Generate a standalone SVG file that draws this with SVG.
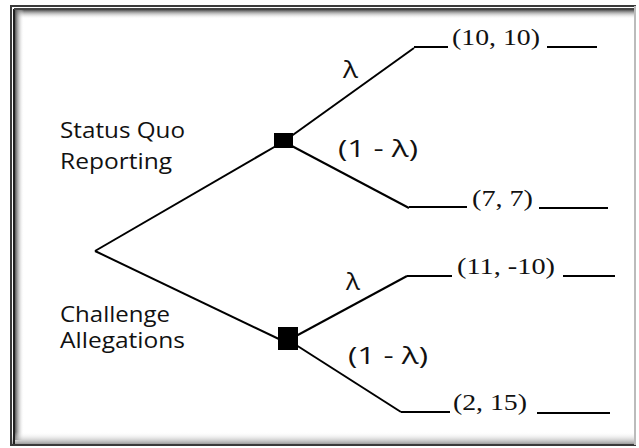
<svg xmlns="http://www.w3.org/2000/svg" width="639" height="448" viewBox="0 0 639 448">
<style>
.edge{stroke:#000;stroke-width:2;fill:none}
.lbl{font-family:"Open Sans",sans-serif;font-size:21px;fill:#111}
.prob{font-family:"Open Sans",sans-serif;font-size:24px;fill:#111}
.pay{font-family:"Liberation Serif",serif;font-size:23px;fill:#111}
.sq{fill:#000}
</style>
<defs>
<linearGradient id="gt" x1="0" y1="0" x2="0" y2="1"><stop offset="0" stop-color="#555"/><stop offset="1" stop-color="#fff" stop-opacity="0"/></linearGradient>
<linearGradient id="gl" x1="0" y1="0" x2="1" y2="0"><stop offset="0" stop-color="#555"/><stop offset="1" stop-color="#fff" stop-opacity="0"/></linearGradient>
<linearGradient id="gb" x1="0" y1="0" x2="0" y2="1"><stop offset="0" stop-color="#fff" stop-opacity="0"/><stop offset="1" stop-color="#777"/></linearGradient>
</defs>
<rect width="639" height="448" fill="#fff"/>
<g id="frame">
<rect x="15" y="10" width="620" height="9" fill="url(#gt)"/>
<rect x="15" y="10" width="9" height="430" fill="url(#gl)"/>
<rect x="10" y="432" width="626" height="14" fill="url(#gb)"/>
<rect x="11" y="6" width="624" height="439" fill="none" stroke="#3a3a3a" stroke-width="2"/>
<line x1="14" y1="9" x2="14" y2="444" stroke="#222" stroke-width="2"/>
<line x1="14" y1="9" x2="634" y2="9" stroke="#444" stroke-width="2"/>
<line x1="635" y1="6" x2="635" y2="445" stroke="#bbb" stroke-width="2"/>
</g>
<g id="connectors">
<line class="edge" x1="95" y1="251" x2="276" y2="146"/>
<line class="edge" x1="95" y1="251" x2="281" y2="340"/>
<line class="edge" x1="290" y1="137" x2="414" y2="48"/>
<line class="edge" x1="290" y1="145" x2="409" y2="208"/>
<line class="edge" x1="296" y1="336" x2="407" y2="276"/>
<line class="edge" x1="296" y1="345" x2="401" y2="412"/>
<line class="edge" x1="414" y1="47" x2="448" y2="47"/>
<line class="edge" x1="547" y1="47" x2="597" y2="47"/>
<line class="edge" x1="409" y1="207" x2="467" y2="207"/>
<line class="edge" x1="539" y1="208" x2="608" y2="208"/>
<line class="edge" x1="407" y1="276" x2="452" y2="276"/>
<line class="edge" x1="563" y1="276" x2="615" y2="276"/>
<line class="edge" x1="401" y1="412" x2="450" y2="412"/>
<line class="edge" x1="537" y1="413" x2="610" y2="413"/>
</g>
<g id="root-labels">
<text class="lbl" x="60" y="138" textLength="125" lengthAdjust="spacingAndGlyphs">Status Quo</text>
<text class="lbl" x="60" y="169" textLength="112" lengthAdjust="spacingAndGlyphs">Reporting</text>
<text class="lbl" x="60" y="322" textLength="110" lengthAdjust="spacingAndGlyphs">Challenge</text>
<text class="lbl" x="60" y="348" textLength="125" lengthAdjust="spacingAndGlyphs">Allegations</text>
</g>
<g id="node-status-quo">
<rect class="sq" x="274" y="133" width="19" height="15"/>
<text class="prob" x="343" y="78" textLength="15" lengthAdjust="spacingAndGlyphs">λ</text>
<text class="prob" x="338" y="157" textLength="80" lengthAdjust="spacingAndGlyphs">(1 - λ)</text>
</g>
<g id="node-challenge">
<rect class="sq" x="278" y="327" width="20" height="23"/>
<text class="prob" x="346" y="290" textLength="14" lengthAdjust="spacingAndGlyphs">λ</text>
<text class="prob" x="348" y="364" textLength="80" lengthAdjust="spacingAndGlyphs">(1 - λ)</text>
</g>
<g id="payoff-10-10"><text class="pay" x="452" y="45" textLength="88" lengthAdjust="spacingAndGlyphs">(10, 10)</text></g>
<g id="payoff-7-7"><text class="pay" x="472" y="206" textLength="61" lengthAdjust="spacingAndGlyphs">(7, 7)</text></g>
<g id="payoff-11-m10"><text class="pay" x="457" y="274" textLength="98" lengthAdjust="spacingAndGlyphs">(11, -10)</text></g>
<g id="payoff-2-15"><text class="pay" x="453" y="410" textLength="74" lengthAdjust="spacingAndGlyphs">(2, 15)</text></g>
</svg>
